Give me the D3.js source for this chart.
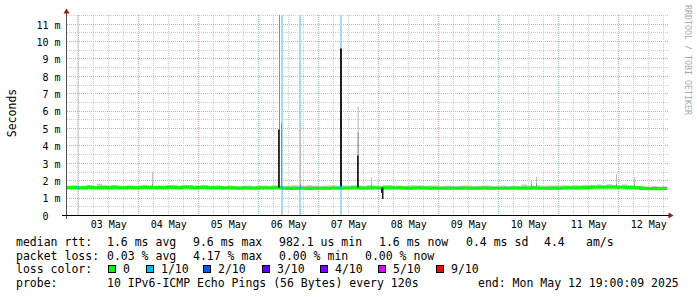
<!DOCTYPE html>
<html>
<head>
<meta charset="utf-8">
<script src="https://cdn.jsdelivr.net/npm/d3@7"></script>
<style>
  body { margin: 0; background: #fff; }
  text { font-family: "DejaVu Sans Mono", monospace; fill: #000; }
</style>
</head>
<body>
<div id="chart"></div>
<script>
// Set dimensions for the graph
const width = 697;
const height = 297;

// time span shown on the graph
const startTime = "2025-05-02T19:30:00Z";
const endTime = "2025-05-12T19:30:00Z";

// median rtt in ms, one value per 2 hours from startTime
const medianRtt = [
  1.60,1.61,1.59,1.60,1.62,1.60,1.59,1.61,1.60,1.62,1.60,1.59,1.61,1.60,1.60,1.62,1.61,1.60,
  1.61,1.60,1.62,1.61,1.60,1.63,1.62,1.60,1.61,1.62,1.60,1.59,1.60,1.58,1.59,1.58,1.57,1.58,
  1.58,1.57,1.58,1.59,1.58,1.60,
  1.60,
  1.56,1.55,1.56,1.57,1.56,1.55,1.56,1.57,1.56,1.57,1.58,1.57,1.58,
  1.58,1.59,1.58,1.57,1.58,1.59,1.58,
  1.60,1.59,1.58,1.59,1.58,1.57,1.58,1.59,1.58,1.57,1.58,1.57,1.56,1.57,1.56,1.57,1.58,1.57,1.56,1.57,1.58,1.57,1.56,1.57,1.56,1.57,1.58,
  1.57,1.58,1.57,1.58,1.57,1.56,1.57,1.58,1.57,1.58,1.59,1.58,1.59,1.60,1.61,
  1.62,1.63,1.62,1.64,1.63,1.62,1.63,1.61,1.60,1.58,
  1.55,1.54,1.55,1.54,1.55
];

// top of the smoke (slowest pings) in ms, same 2 hour steps
const smokeTop = [
  1.72,1.74,1.70,1.73,1.75,1.71,1.82,1.74,1.72,1.76,1.73,1.71,1.74,1.72,1.73,1.76,1.74,1.72,
  1.74,1.73,1.76,1.75,1.72,1.77,1.76,1.73,1.74,1.76,1.72,1.73,1.74,1.70,1.72,1.71,1.70,1.73,
  1.72,1.70,1.74,1.72,1.71,1.74,
  1.74,
  1.70,1.72,1.74,1.72,1.71,1.75,1.72,1.70,1.73,1.72,1.74,1.71,1.73,
  1.72,1.74,1.73,1.71,1.75,1.72,1.70,
  1.74,1.76,1.72,1.73,1.71,1.72,1.74,1.72,1.71,1.73,1.72,1.70,1.71,1.72,1.70,1.71,1.73,1.72,1.70,1.71,1.73,1.72,1.70,1.71,1.72,1.70,1.72,
  1.71,1.78,1.73,1.72,1.74,1.71,1.72,1.73,1.72,1.74,1.73,1.76,1.74,1.75,1.77,
  1.76,1.78,1.75,1.79,1.76,1.74,1.78,1.75,1.73,1.70,
  1.68,1.67,1.69,1.67,1.68
];

// short median excursions (ms)
const spikeStart  = ["2025-05-06T07:55Z","2025-05-07T08:42Z","2025-05-07T15:30Z","2025-05-08T01:06Z","2025-05-08T01:30Z"];
const spikeEnd    = ["2025-05-06T08:35Z","2025-05-07T09:30Z","2025-05-07T16:10Z","2025-05-08T01:30Z","2025-05-08T02:00Z"];
const spikeMedian = [4.95, 9.6, 3.45, 1.3, 0.95];

// isolated slow pings: outer (lightest) and inner smoke tops (ms)
const smokeStart = ["2025-05-04T05:30Z","2025-05-06T08:18Z","2025-05-06T09:06Z","2025-05-06T16:42Z","2025-05-07T15:45Z",
                    "2025-05-07T21:06Z","2025-05-10T13:06Z","2025-05-10T15:06Z","2025-05-11T23:06Z","2025-05-12T06:18Z"];
const smokeEnd   = ["2025-05-04T05:54Z","2025-05-06T08:42Z","2025-05-06T09:30Z","2025-05-06T17:00Z","2025-05-07T16:10Z",
                    "2025-05-07T21:30Z","2025-05-10T13:30Z","2025-05-10T15:30Z","2025-05-11T23:30Z","2025-05-12T06:42Z"];
const smokeOuter = [2.5, 12, 5.3, 5.0, 6.27, 2.2, 2.0, 2.2, 2.4, 2.2];
const smokeInner = [1.8, 12, 5.3, 1.8, 4.8, 1.75, 1.8, 1.85, 1.8, 1.8];

// periods with packet loss (1/10)
const lossStart = ["2025-05-02T23:40Z","2025-05-06T09:06Z","2025-05-06T16:18Z","2025-05-07T08:42Z"];
const lossEnd   = ["2025-05-03T00:05Z","2025-05-06T09:54Z","2025-05-06T17:06Z","2025-05-07T09:30Z"];

// legend
const lossLabels = ["0", "1/10", "2/10", "3/10", "4/10", "5/10", "9/10"];
const lossColors = ["#00ff00", "#00b8ff", "#0059ff", "#5e00ff", "#7e00ff", "#dd00ff", "#ff0000"];

const svg = d3.select("#chart")
  .append("svg")
  .attr("width", width)
  .attr("height", height);

svg.append("rect").attr("width", width).attr("height", height).attr("fill", "#fff");

const xScale = d3.scaleUtc()
  .domain([new Date(startTime), new Date(endTime)])
  .range([67, 667]);

const yScale = d3.scaleLinear()
  .domain([0, 11.5])
  .range([215.5, 15.5]);

const crisp = v => Math.round(v - 0.5) + 0.5;

svg.append("defs").append("clipPath").attr("id", "plot")
  .append("rect").attr("x", 67).attr("y", 15).attr("width", 600).attr("height", 200.5);

// grid lines
const grid = svg.append("g");
yScale.ticks(23).filter(v => v > 0).forEach(v => {
  grid.append("line")
    .attr("x1", 67).attr("x2", 668)
    .attr("y1", crisp(yScale(v))).attr("y2", crisp(yScale(v)))
    .attr("stroke", Number.isInteger(v) ? "#e8a0a0" : "#cdcdcd")
    .attr("stroke-dasharray", "1,1");
});
xScale.ticks(d3.utcHour.every(6)).forEach(t => {
  const major = t.getUTCHours() === 0;
  grid.append("line")
    .attr("x1", crisp(xScale(t))).attr("x2", crisp(xScale(t)))
    .attr("y1", 15).attr("y2", 215)
    .attr("stroke", major ? "#e8a0a0" : "#cdcdcd")
    .attr("stroke-dasharray", "1,1");
});

const plot = svg.append("g").attr("clip-path", "url(#plot)");

// loss background bands
plot.selectAll(".loss")
  .data(lossStart)
  .enter()
  .append("rect")
    .attr("x", (d) => xScale(new Date(d)))
    .attr("width", (d, i) => Math.max(1, xScale(new Date(lossEnd[i])) - xScale(new Date(d))))
    .attr("y", 15)
    .attr("height", 200)
    .attr("fill", "#a4dcf2");

// smoke around the median
const stepTime = i => d3.utcHour.offset(new Date(startTime), 2 * i);
const smokeArea = d3.area()
  .x((d, i) => xScale(stepTime(i)))
  .y0((d, i) => yScale(medianRtt[i]))
  .y1((d) => yScale(d))
  .curve(d3.curveStepAfter);
plot.append("path")
  .datum(smokeTop.concat([smokeTop[smokeTop.length - 1]]))
  .attr("d", smokeArea.y0((d, i) => yScale(medianRtt[Math.min(i, medianRtt.length - 1)])))
  .attr("fill", "#c6c6c6");

// isolated slow pings
plot.selectAll(".smokeOuter")
  .data(smokeStart)
  .enter()
  .append("rect")
    .attr("x", (d) => xScale(new Date(d)))
    .attr("width", (d, i) => Math.max(1, xScale(new Date(smokeEnd[i])) - xScale(new Date(d))))
    .attr("y", (d, i) => yScale(smokeOuter[i]))
    .attr("height", (d, i) => yScale(1.6) - yScale(smokeOuter[i]))
    .attr("fill", "#bdbdbd");
plot.selectAll(".smokeInner")
  .data(smokeStart)
  .enter()
  .append("rect")
    .attr("x", (d) => xScale(new Date(d)))
    .attr("width", (d, i) => Math.max(1, xScale(new Date(smokeEnd[i])) - xScale(new Date(d))))
    .attr("y", (d, i) => yScale(smokeInner[i]))
    .attr("height", (d, i) => yScale(1.6) - yScale(smokeInner[i]))
    .attr("fill", "#8f8f8f");

// median line
const medianLine = d3.line()
  .x((d, i) => xScale(stepTime(i)))
  .y((d) => yScale(d))
  .curve(d3.curveStepAfter);
plot.append("path")
  .datum(medianRtt.concat([medianRtt[medianRtt.length - 1]]))
  .attr("d", medianLine)
  .attr("fill", "none")
  .attr("stroke", "#00ff00")
  .attr("stroke-width", 3);

// median spikes
plot.selectAll(".spike")
  .data(spikeStart)
  .enter()
  .append("rect")
    .attr("x", (d) => xScale(new Date(d)))
    .attr("width", (d, i) => Math.max(1.5, xScale(new Date(spikeEnd[i])) - xScale(new Date(d))))
    .attr("y", (d, i) => Math.min(yScale(spikeMedian[i]), yScale(1.6)))
    .attr("height", (d, i) => Math.abs(yScale(1.6) - yScale(spikeMedian[i])))
    .attr("fill", "#1e1e1e");

// median coloured by loss
plot.selectAll(".lossMedian")
  .data(lossStart)
  .enter()
  .append("rect")
    .attr("x", (d) => xScale(new Date(d)))
    .attr("width", (d, i) => Math.max(1.5, xScale(new Date(lossEnd[i])) - xScale(new Date(d))))
    .attr("y", yScale(1.6) - 1.5)
    .attr("height", 3)
    .attr("fill", lossColors[1]);

// axes lines and arrows
svg.append("line").attr("x1", 66.5).attr("x2", 66.5).attr("y1", 12).attr("y2", 219)
  .attr("stroke", "#555");
svg.append("line").attr("x1", 62).attr("x2", 669).attr("y1", 215.5).attr("y2", 215.5)
  .attr("stroke", "#000");
svg.append("path").attr("d", "M63.5,13.5L69.5,13.5L66.5,8.5Z").attr("fill", "#8e1c1c");
svg.append("path").attr("d", "M668.5,212.5L668.5,218.5L673.5,215.5Z").attr("fill", "#8e1c1c");

// y labels
const yAxis = svg.append("g")
  .attr("transform", "translate(67,0)")
  .call(d3.axisLeft(yScale)
    .tickValues(d3.range(0, 12))
    .tickFormat(v => v ? v + " m" : "0\u00a0\u00a0")
    .tickSize(0)
    .tickPadding(6.5));
yAxis.select(".domain").remove();
yAxis.selectAll("text")
  .attr("font-family", "DejaVu Sans Mono")
  .attr("font-size", "10px")
  .attr("fill", "#000")
  .attr("dy", "0.38em");

// x labels at noon of each day
const xAxis = svg.append("g")
  .attr("transform", "translate(0,215.5)")
  .call(d3.axisBottom(xScale)
    .tickValues(d3.utcDay.range(new Date("2025-05-03T00:00Z"), new Date("2025-05-13T00:00Z"))
      .map(d => d3.utcHour.offset(d, 12)))
    .tickFormat(d3.utcFormat("%d %b"))
    .tickSize(0));
xAxis.select(".domain").remove();
xAxis.selectAll("text")
  .attr("font-family", "DejaVu Sans Mono")
  .attr("font-size", "10px")
  .attr("fill", "#000")
  .attr("y", 12.5)
  .attr("dy", null);

// vertical label and watermark
svg.append("text")
  .attr("transform", "translate(15.5,113) rotate(-90)")
  .attr("text-anchor", "middle")
  .attr("font-size", "11.5px")
  .text("Seconds");
svg.append("text")
  .attr("transform", "translate(685,5) rotate(90)")
  .attr("font-size", "8.3px")
  .style("fill", "#aaaaaa")
  .text("RRDTOOL / TOBI OETIKER");

// legend rows
const legend = svg.append("g").attr("font-size", "11.5px");
const put = (x, y, s) => legend.append("text").attr("x", x).attr("y", y)
  .attr("xml:space", "preserve").text(s);

put(16, 246, "median rtt:");
put(107, 246, "1.6 ms avg");
put(193, 246, "9.6 ms max");
put(279, 246, "982.1 us min");
put(379, 246, "1.6 ms now");
put(466, 246, "0.4 ms sd");
put(544, 246, "4.4");
put(586, 246, "am/s");

put(16, 259.5, "packet loss:");
put(107, 259.5, "0.03 % avg");
put(193, 259.5, "4.17 % max");
put(279, 259.5, "0.00 % min");
put(365, 259.5, "0.00 % now");

put(16, 273, "loss color:");
const swatchX = [108, 146, 203, 262, 320, 377.5, 435.5];
lossLabels.forEach((lab, i) => {
  legend.append("rect")
    .attr("x", Math.round(swatchX[i]) + 0.5).attr("y", 265.5)
    .attr("width", 7).attr("height", 7)
    .attr("fill", lossColors[i]).attr("stroke", "#000");
  put(Math.round(swatchX[i]) + 15, 273, lab);
});

put(16, 286.5, "probe:");
put(107, 286.5, "10 IPv6-ICMP Echo Pings (56 Bytes) every 120s");
put(478, 286.5, "end: Mon May 12 19:00:09 2025");
</script>
</body>
</html>
